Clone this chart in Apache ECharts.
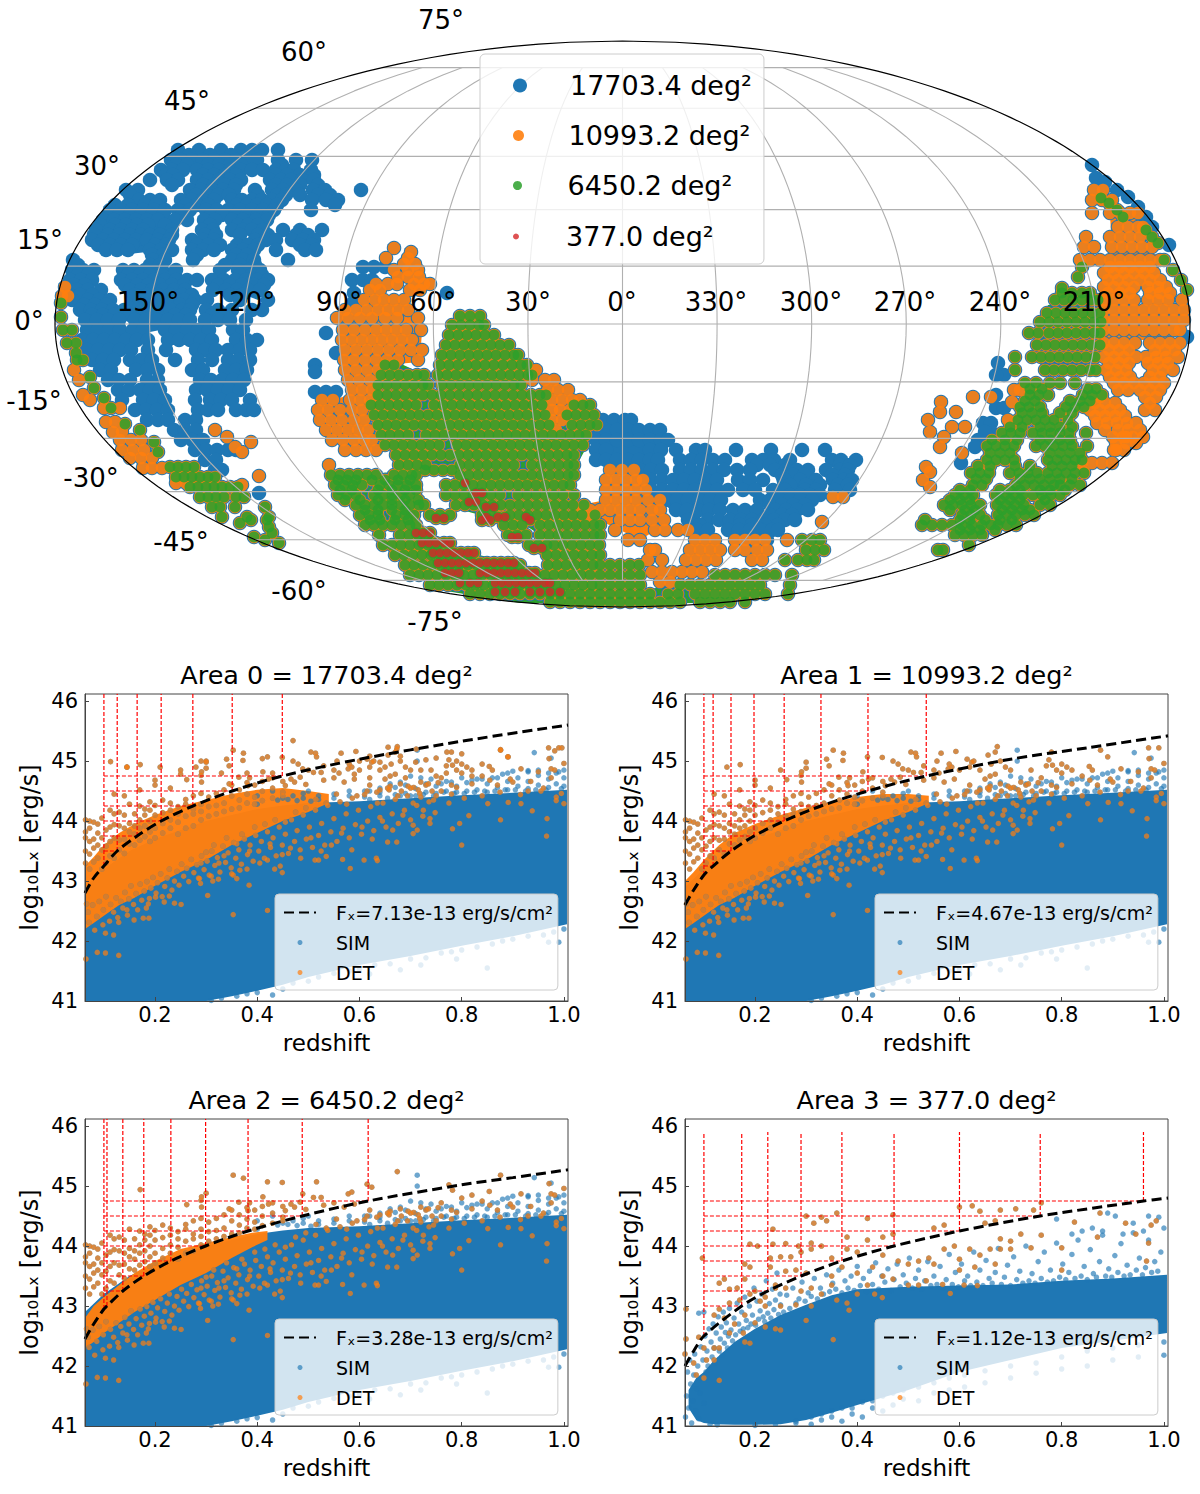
<!DOCTYPE html>
<html><head><meta charset="utf-8">
<style>html,body{margin:0;padding:0;background:#fff}#c{width:1200px;height:1494px}</style>
<script src="https://cdn.jsdelivr.net/npm/echarts@6/dist/echarts.min.js"></script>
</head><body><div id="c"></div>
<script>
const areaNames=['17703.4 deg²','10993.2 deg²','6450.2 deg²','377.0 deg²'];
const skyBlueRows=[
[150,[178,199,221,241,252,262,278]],
[155,[189,210,231]],
[160,[171,181,192,203,214,225,236,247,257,278,296,312]],
[165,[176,187,208,219,230,241,282]],
[170,[161,172,183,197,208,219,230,241,252,263,276,286,294,311]],
[175,[166,173,203,214,225,236,276,287,300,314]],
[180,[150,167,178,197,208,219,230,241,270,281,291,302,314]],
[185,[172,203,214,225,236,276,287,300,318]],
[190,[126,138,190,201,212,223,234,255,272,283,296,313,325,361]],
[195,[130,196,207,218,229,258,277,286,300,318,330]],
[200,[139,150,160,181,192,203,214,232,242,252,262,272,282,312,326,338]],
[205,[115,128,145,156,186,197,208,237,247,257,267,277,335]],
[210,[110,121,132,143,154,165,178,190,206,217,228,240,252,263,274,311]],
[215,[108,119,130,141,152,163,182,211,222,236,247,258,269]],
[220,[103,114,125,136,147,158,175,187,204,215,232,243,256,267]],
[225,[100,115,126,137,148,165,210,238,248,258]],
[230,[96,110,121,132,143,172,202,213,232,243,252,263,283,300,322]],
[235,[94,108,119,130,141,150,160,172,205,216,240,258,268,296,308]],
[240,[92,103,114,125,136,147,158,169,192,203,214,255,266,276,292,303,314]],
[245,[98,110,121,132,155,166,197,208,220,237,248,258,300,312]],
[250,[106,117,128,150,161,172,192,203,214,232,243,254,276,305,316]],
[255,[152,163,197,236,247]],
[260,[73,153,165,193,232,243,254,288]],
[265,[78,150,160,225,240,255]],
[270,[72,83,94,123,134,145,162,176,220,238,249,260]],
[275,[78,88,128,140,150,162,175,240,252,262]],
[280,[70,81,92,121,132,143,154,165,176,187,197,212,224,235,246,257,268]],
[285,[74,85,125,137,148,160,172,184,218,230,242,254,264]],
[290,[66,77,88,101,130,141,152,163,174,185,213,226,237,248,260]],
[295,[70,80,92,135,147,158,170,182,192,230,242]],
[300,[72,88,99,110,140,151,162,173,184,195,207,240,268]],
[305,[84,95,106,145,157,168,180,192]],
[310,[80,91,102,113,124,138,149,160,171,182,190,206,218,232,252,262]],
[315,[92,103,114,130,152,175,186,212,226]],
[320,[85,97,108,119,135,146,157,168,179,190,205,218,230,246]],
[330,[87,98,109,120,133,143,165,176,187,198,209,233,243]],
[340,[82,93,104,115,126,137,148,168,179,190,201,212,236,247,257]],
[350,[87,98,109,120,131,148,166,196,205,216,228,240,250]],
[360,[92,103,114,130,141,152,175,198,212,228,238,250]],
[370,[100,111,136,147,158,192,203,225,236,247]],
[380,[108,119,130,147,158,200,211,222,233,244]],
[390,[118,129,140,150,160,196,207,218,229,240]],
[400,[122,143,154,165,195,210,221,232,250]],
[410,[135,146,157,168,198,208,218,236,246,254]],
[420,[147,158,168,185,196]],
[430,[174,185,196]],
[440,[181,192,203]],
[450,[195,206,217,228,236]],
[460,[205,216]],
[470,[215,222]],
[493,[259]],
[267,[363,374,385]],[280,[352,363,372]],[293,[447,354]],[302,[354]],
[333,[326]],[353,[336]],[365,[315]],[372,[315]],[392,[315,336,326]],
[420,[603,614,625,631]],
[430,[596,606,617,628,639,650,660]],
[440,[596,606,617,628,639,650,661,668]],
[450,[596,606,650,661,676,696,705,736,771,802,825]],
[460,[596,606,617,628,639,650,658,680,691,702,713,725,752,763,774,790,832,841,856]],
[465,[757,770,785,840,850]],
[470,[640,651,662,680,691,702,713,724,737,750,775,786,797,808,826,840,848]],
[475,[782,793,804,832,845]],
[480,[651,662,673,684,695,706,717,738,750,763,785,800,816,833,844,852]],
[485,[790,806,820,838,848]],
[490,[651,662,673,684,695,706,717,728,743,755,773,785,805,816,835,850]],
[495,[790,800,810,820]],
[500,[666,677,688,699,710,721,760,770,780,790,800,812]],
[505,[770,782,793,805]],
[510,[676,687,698,709,720,733,745,757,775,786,797,808]],
[515,[770,782,792]],
[520,[688,708,719,730,741,752,763,774,785,795]],
[525,[700,740,752,765,778]],
[530,[697,708,728,739,750,761,772,778]],
[540,[736,747,758,767]],
[165,[1092]],[178,[1096]],[182,[1105]],[190,[1117]],[197,[1128]],[207,[1138]],[217,[1146]],[227,[1152]],[245,[1169]],[337,[1187]],
[363,[998]],[375,[1004,996]],[395,[996]],[408,[996,1004]],[423,[983,991]],[432,[991,985]],[440,[978]],[447,[975]],[463,[961]]
];
const skyOrangeRows=[
[248,[394]],[252,[411]],[258,[386,408]],[264,[404,415]],[270,[394,408,418]],[277,[398,408,419]],
[284,[376,388,397,414,424,430]],[290,[370,380,410,420]],[300,[364,375,384,394,404]],
[310,[345,356,367,378,388,398,408]],[318,[337,348,360,372,385,397,418]],
[330,[343,354,365,376,386,396,406,421]],[340,[342,352,362,372,382,392,402,412]],
[350,[345,356,367,378,389,400,411,422]],[360,[344,354,365,376,387,398,418]],
[370,[345,356,367,378]],[380,[348,359,370]],[390,[352,362,372]],
[400,[322,333,350,360,370]],[410,[318,328,340,352,362]],[420,[320,331,342,354,364]],
[430,[326,337,348,358,368]],[440,[332,343,354,364,372]],[450,[345,356,366,376]],[465,[329]],
[287,[65]],[296,[62,68]],[370,[74]],[380,[79]],[395,[83]],[400,[90]],[408,[120,104]],[422,[106,115]],[432,[113,122]],
[440,[120,131,141]],[450,[122,133,144]],[458,[130,141,152]],[468,[143,152,162]],[483,[176,186]],
[430,[215]],[437,[227]],[447,[235]],[452,[242]],[442,[251]],[476,[259]],[485,[242]],
[190,[1094,1103]],[200,[1092,1102,1112]],[213,[1092,1110,1120,1130,1138]],[227,[1118,1128,1138,1143]],
[237,[1086,1110,1120,1130,1140]],[247,[1084,1094,1112,1122,1132,1142,1152]],[260,[1080,1090,1100,1110,1120,1130,1140,1150,1160]],
[267,[1110,1120,1130,1140,1150]],[273,[1104,1114,1124,1134,1144,1154]],[280,[1108,1118,1128,1140,1150,1160]],[287,[1104,1114,1124,1134,1148,1158,1166]],[293,[1108,1120,1130,1150,1160,1170]],[300,[1104,1114,1124,1134,1148,1158,1168,1182]],
[310,[1104,1114,1124,1134,1144,1154,1164,1174,1184]],[320,[1104,1114,1124,1134,1144,1154,1164,1174,1184]],
[330,[1104,1114,1124,1134,1144,1154,1164,1174,1180]],[343,[1104,1114,1124,1135,1150,1160,1170,1180]],
[350,[1109,1119,1129,1155,1165,1175]],[357,[1104,1114,1124,1136,1146,1156,1166,1178]],[363,[1109,1119,1129,1148,1158,1168]],[370,[1106,1116,1126,1153,1163,1173]],[377,[1110,1120,1130,1150,1160]],[383,[1114,1124,1134,1144,1154,1164]],[390,[1118,1128,1140,1150,1160]],
[397,[1090,1100,1145,1156]],[403,[1095,1105,1115,1150]],[410,[1090,1100,1110,1120,1145,1155]],[416,[1095,1105,1115,1125]],[423,[1097,1107,1117,1127,1136]],[430,[1105,1118,1128,1140]],
[437,[1113,1123,1133,1143,1126]],[443,[1116,1126,1136]],[450,[1114,1124,1116]],[463,[1082,1092,1102,1112]],[472,[1084]],
[397,[973,991]],[402,[941,1012]],[412,[940,956]],[420,[928,1008]],[427,[952,965]],[432,[930]],[437,[944]],[447,[940]],[453,[962]],
[467,[926]],[472,[930]],[480,[923]],[487,[930]],[390,[1014,1020]],[497,[833,843]],[522,[822]],
[370,[536]],[380,[532,545,554]],[390,[548,558,568]],[400,[552,562,572,580]],[410,[552,560,570]],[420,[552,562]],[430,[556]],
[470,[610,622,634]],[480,[606,616,626,636,643]],[490,[606,616,626,636,646]],[500,[606,616,626,636,648,660]],
[510,[580,590,600,610,620,630,640,652,660]],[520,[590,620,630,640,652,664]],
[530,[615,655,665,678,688]],[540,[628,640,695,705,715,735,745,755,765,787]],
[550,[650,655,690,700,710,720,735,745,757,767]],[560,[648,662,686,696,706,716,752,762]],
[572,[652,662,672,682,692,702]],[582,[660,670]]
];
const skyGreenRows=[
[316,[460,470,480]],
[325,[452,461,470,479,484]],
[335,[449,458,467,476,485,494]],
[345,[446,455,464,473,482,491,500,509]],
[355,[442,451,460,469,478,487,496,505,514,518]],
[365,[385,394,440,449,458,467,476,485,494,503,512,521,527]],
[375,[381,390,399,408,417,424,438,447,456,465,474,483,492,501,510,519,528,532]],
[385,[378,387,396,405,414,423,428,442,451,460,469,478,487,496,505,514,521]],
[395,[378,387,396,405,414,423,432,441,450,459,468,477,486,495,504,513,522,531,540,546]],
[405,[371,380,389,398,407,416,434,443,452,461,470,479,488,497,506,515,524,533,542,574,583,590]],
[415,[374,383,392,401,410,419,428,437,446,455,464,473,482,491,500,509,518,527,536,545,567,576,585,594]],
[425,[378,387,396,405,414,423,432,441,450,459,468,477,486,495,504,513,522,531,540,549,572,581,590,597]],
[435,[381,390,399,408,426,435,444,453,462,471,480,489,498,507,516,525,534,543,552,561,570,579,586]],
[445,[385,394,403,412,421,430,439,457,466,475,484,493,502,511,520,529,538,547,556,565,574,583]],
[455,[396,405,414,423,432,441,450,459,468,477,486,495,504,513,522,531,540,549,558,567,574]],
[465,[399,408,417,426,460,469,478,487,496,505,514,532,541,550,559,568,574]],
[470,[425,434,443,452]],
[475,[331,340,349,358,367,376,394,403,412,416,460,469,478,487,496,505,514,523,532,541,550,559,568,574]],
[480,[338,347,356,372,385,398,410]],
[485,[335,344,353,362,380,389,398,407,416,446,455,464,473,482,491,500,509,518,527,536,545,554,563,570]],
[490,[340,352,378,392,405,416]],
[495,[338,347,356,374,383,392,401,410,446,455,464,473,482,491,500,518,527,536,545,554,563,574]],
[500,[345,360,378,392,405,418]],
[505,[356,365,374,383,392,401,410,419,424,456,465,474,483,492,501,510,519,528,537,546,555,564,573,584]],
[510,[365,378,392,405]],
[515,[360,369,378,396,405,414,430,440,450,482,491,510,519,528,537,546,555,564,573,582,595]],
[520,[370,380,395,408]],
[525,[365,374,383,392,401,410,416,504,513,522,540,549,558,567,576,585,594,600]],
[535,[379,400,409,418,428,508,517,526,540,549,558,567,576,585,594,600]],
[545,[383,392,401,410,419,428,437,529,538,547,554,563,572,581,590,599]],
[555,[395,404,413,422,431,440,449,458,468,547,556,565,574,583,592,600]],
[565,[405,414,423,432,441,450,459,468,477,486,495,504,513,520,548,557,566,575,584,593,600,610,620,630,639]],
[575,[410,419,428,437,446,455,464,473,482,491,500,509,518,527,536,545,554,563,572,581,590,600,610,620,630,640,715,725,735,745,755,765,775,792]],
[585,[430,439,448,457,466,475,484,493,502,511,520,529,538,547,556,565,574,583,592,600,610,620,630,640,680,690,700,710,720,730,740,750,760,790]],
[594,[470,480,490,500,510,520,530,540,550,560,570,580,590,600,610,620,630,640,650,668,678,695,705,715,725,735,745,755,765,788]],
[602,[550,560,570,580,590,600,610,620,630,640,650,660,670,680,700,710,720,730,745]],
[540,[802,812,820]],[550,[806,815,824]],[560,[785,798,807,814]],
[333,[1029,1038,1049,1058,1067,1076,1085,1094,1100]],
[345,[1037,1046,1055,1064,1073,1082,1091,1100]],
[357,[1015,1032,1041,1050,1059,1068,1077,1086,1095]],
[370,[1015,1045,1054,1063,1072,1081,1090,1096]],
[383,[1025,1036,1050,1060,1075]],
[389,[1030,1042,1088,1096]],
[395,[1030,1039,1048,1083,1092,1102]],
[401,[1025,1035,1070,1080,1090]],
[407,[1020,1029,1040,1066,1075,1084]],
[413,[1022,1032,1042,1060,1072]],
[420,[1018,1027,1036,1045,1054,1068]],
[427,[1010,1022,1040,1050,1060,1072]],
[433,[1002,1011,1020,1033,1042,1051,1060,1069,1086]],
[440,[992,1005,1017,1040,1050,1060,1070]],
[446,[987,996,1005,1014,1036,1045,1054,1063,1072,1087]],
[453,[990,1000,1010,1050,1060,1070,1080]],
[460,[987,996,1005,1014,1048,1057,1066,1075,1082]],
[466,[978,990,1015,1030,1052,1062,1072]],
[473,[971,980,989,1010,1019,1028,1037,1048,1057,1066,1075,1084]],
[479,[976,986,1020,1030,1040,1050,1060,1072]],
[485,[973,982,1016,1025,1034,1044,1054,1060,1070,1080]],
[490,[960,970,1000,1010,1020,1040,1050,1065]],
[495,[955,964,973,996,1005,1014,1023,1033,1042,1051,1060]],
[500,[950,960,970,1000,1010,1020,1045]],
[505,[944,953,962,971,980,997,1006,1015,1024,1040,1050]],
[510,[950,965,975,1002,1012,1022,1030]],
[515,[962,971,980,998,1007,1016,1025,1034]],
[520,[925,960,970,985,1000,1012]],
[525,[922,932,942,952,962,972,982,991,998,1007,1016]],
[530,[960,970,980,995]],
[535,[955,964,973,982]],[545,[969]],[550,[938,943]],
[267,[1082]],[277,[1078]],[288,[1062]],[293,[1062,1072,1082,1090]],[300,[1055,1064,1073,1082,1091,1098]],
[313,[1047,1056,1065,1074,1083,1092,1100]],[322,[1040,1049,1058,1067,1076,1085,1094,1101]],
[198,[1101]],[203,[1109]],[210,[1117]],[217,[1123]],[230,[1146]],[237,[1152]],[243,[1158]],[260,[1164]],[270,[1173]],[280,[1181]],[290,[1187]],
[303,[61]],[317,[61]],[330,[63,72]],[343,[67,76]],[353,[76]],[360,[77,83]],[377,[90]],[388,[94]],[398,[104]],[408,[111]],[424,[125]],[430,[140]],[442,[154]],[452,[158]],
[467,[170,178,186,194]],[477,[176,184,192,200,208,215]],[487,[190,198,206,214,222,230,238]],[497,[200,208,216,224,236,244]],
[507,[212,220,235,265]],[517,[222,247,269]],[523,[240]],[520,[251,267]],[527,[269]],[533,[272]],[543,[279]],[540,[265]],[537,[254]]
];
const skyRedRows=[
[483,[465]],[493,[476,482]],[502,[469,476]],[507,[486,494]],[517,[498,505,486,526]],[520,[482,490,530]],[518,[436,444]],[537,[512,518]],[548,[534,542]],
[533,[416,423,430]],[543,[422,429,436,444,450]],[553,[433,440,447,454,461,468,474]],
[563,[438,445,452,459,466,473,480,487,494,501,508,514]],[573,[445,452,459,480,487,494,501,508,515,522,529,535]],
[583,[460,470,478,495,502,509,516,523,530,537,545,550]],[592,[495,505,515,530,540,550,560]]
];
// solid cores of the tile clusters (plane outlines)
const skyBlueCores=[
[[195,165],[240,165],[240,190],[212,205],[190,200]],
[[100,215],[165,205],[165,250],[120,255],[95,245]],
[[122,270],[190,285],[185,325],[135,335],[125,300]],
[[165,325],[212,325],[212,345],[165,345]],
[[82,320],[122,310],[130,345],[110,370],[85,345]],
[[232,275],[268,280],[258,300],[232,290]],
[[596,425],[660,430],[670,445],[650,470],[650,490],[720,470],[725,500],[690,525],[665,505],[640,470],[596,465]],
[[730,515],[780,515],[770,535],[735,535]],
[[775,475],[810,475],[812,515],[785,515]]];
const skyOrangeCores=[
[[345,305],[408,305],[422,330],[420,362],[385,365],[378,395],[370,405],[372,452],[348,445],[322,415],[332,400],[350,395],[344,370],[340,325]],
[[1110,215],[1140,220],[1142,250],[1158,255],[1160,285],[1135,285],[1135,305],[1185,310],[1185,328],[1170,340],[1135,340],[1130,380],[1160,380],[1160,392],[1120,392],[1105,370],[1102,300],[1102,260],[1112,250]],
[[608,472],[640,472],[645,500],[662,510],[664,525],[640,540],[620,530],[588,515],[580,505],[606,500]],
[[540,385],[568,395],[580,400],[565,430],[552,425]]];
const skyGreenCores=[
[[462,318],[490,335],[512,350],[527,368],[530,385],[522,390],[542,398],[545,420],[565,410],[592,412],[596,430],[585,450],[574,470],[572,500],[584,510],[598,525],[602,560],[638,566],[640,590],[610,603],[560,603],[548,575],[548,555],[540,535],[525,525],[500,520],[480,515],[462,510],[448,500],[446,490],[458,478],[400,462],[396,455],[383,445],[378,425],[372,405],[378,395],[378,385],[381,375],[385,365],[397,362],[425,375],[430,385],[436,395],[440,380],[438,365],[444,345],[452,325]],
[[335,477],[416,470],[418,500],[424,507],[416,525],[400,525],[385,520],[360,510],[345,495]],
[[395,545],[415,530],[440,540],[470,553],[515,563],[545,575],[600,580],[600,603],[520,603],[440,590],[408,570]],
[[600,582],[640,572],[640,590],[680,585],[760,580],[755,592],[700,603],[600,604]],
[[1048,305],[1098,300],[1098,330],[1088,372],[1042,372],[1034,335]],
[[1048,465],[1082,460],[1060,500],[1035,500]]];
const lonLabels=['150°','120°','90°','60°','30°','0°','330°','300°','270°','240°','210°'];
const lonLabelX=[148,244,339,433,528,622,716,811,905,1000,1094];
const latLabels=[['75°',441,20],['60°',304,52],['45°',187,101],['30°',97,166],['15°',40,240],['0°',29,321],['-15°',34,401],['-30°',91,478],['-45°',181,542],['-60°',299,591],['-75°',435,622]];

// ---------- panels ----------
const panelTitles=['Area 0 = 17703.4 deg²','Area 1 = 10993.2 deg²','Area 2 = 6450.2 deg²','Area 3 = 377.0 deg²'];
const fluxNames=['Fₓ=7.13e-13 erg/s/cm²','Fₓ=4.67e-13 erg/s/cm²','Fₓ=3.28e-13 erg/s/cm²','Fₓ=1.12e-13 erg/s/cm²'];
const xTicks=[0.2,0.4,0.6,0.8,1.0];
const yTicks=[41,42,43,44,45,46];
const curves=[
[[.063,42.8],[.08,43.05],[.1,43.25],[.126,43.5],[.165,43.75],[.212,44],[.274,44.25],[.351,44.5],[.449,44.75],[.6,45.03],[.8,45.33],[1.008,45.6]],
[[.063,42.6],[.08,42.85],[.1,43.1],[.118,43.25],[.153,43.5],[.198,43.75],[.257,44],[.329,44.25],[.421,44.5],[.535,44.75],[.7,45.03],[.85,45.22],[1.008,45.42]],
[[.063,42.45],[.08,42.7],[.1,42.95],[.106,43],[.137,43.25],[.178,43.5],[.231,43.75],[.299,44],[.382,44.25],[.488,44.5],[.617,44.75],[.8,45.02],[.9,45.14],[1.008,45.27]],
[[.063,42.0],[.08,42.25],[.1,42.5],[.174,43],[.225,43.25],[.29,43.5],[.37,43.75],[.472,44],[.6,44.25],[.758,44.5],[.96,44.75],[1.008,44.8]]
];
const gridZ=[
[.1,.126,.165,.212,.274,.351,.449],
[.1,.118,.153,.198,.257,.329,.421,.535],
[.1,.106,.137,.178,.231,.299,.382,.488,.617],
[.1,.174,.225,.29,.37,.472,.6,.758,.96]];
const gridL=[
[43.25,43.5,43.75,44,44.25,44.5,44.75],
[43.1,43.25,43.5,43.75,44,44.25,44.5,44.75],
[42.95,43,43.25,43.5,43.75,44,44.25,44.5,44.75],
[42.5,43,43.25,43.5,43.75,44,44.25,44.5,44.75]];
const gridTop=[46.12,46.12,46.12,45.9];
// solid SIM clouds: [z, low edge, high edge]
const simBandShared=[[.063,41,42.9],[.1,41,43.2],[.15,41,43.5],[.2,41,43.7],[.25,41,43.85],[.3,41,44.0],[.35,41.08,44.1],[.4,41.17,44.2],[.45,41.27,44.26],[.5,41.4,44.3],[.6,41.6,44.33],[.7,41.75,44.38],[.8,41.92,44.43],[.9,42.08,44.47],[1.006,42.28,44.52]];
const simBand3=[[.07,41.3,41.6],[.085,41.1,41.8],[.1,41.05,41.9],[.12,41.03,42.1],[.16,41.02,42.4],[.2,41.02,42.62],[.25,41.03,42.85],[.3,41.1,43.02],[.35,41.22,43.18],[.4,41.35,43.28],[.5,41.6,43.32],[.6,41.9,43.34],[.7,42.1,43.36],[.8,42.3,43.42],[.9,42.42,43.46],[1.006,42.55,43.52]];
// solid DET clumps: [z, low edge, high edge]
const detBands=[
[[.063,42.2,43.25],[.08,42.3,43.4],[.1,42.42,43.6],[.13,42.6,43.8],[.16,42.72,43.95],[.2,42.92,44.1],[.25,43.15,44.25],[.3,43.35,44.35],[.35,43.6,44.45],[.4,43.8,44.52],[.45,44.0,44.55],[.5,44.15,44.5],[.54,44.3,44.45]],
[[.063,42.2,43.0],[.08,42.3,43.15],[.1,42.42,43.35],[.13,42.6,43.6],[.16,42.72,43.8],[.2,42.92,43.95],[.25,43.15,44.1],[.3,43.35,44.22],[.35,43.6,44.32],[.4,43.8,44.4],[.45,44.0,44.45],[.5,44.15,44.45],[.54,44.3,44.42]],
[[.063,42.3,42.8],[.08,42.4,43.0],[.1,42.55,43.15],[.13,42.72,43.35],[.16,42.9,43.55],[.2,43.1,43.75],[.25,43.35,43.95],[.3,43.55,44.05],[.35,43.8,44.15],[.39,43.98,44.22],[.42,44.1,44.25]],
null];
const simEdgeRows=[[.4,[44.28,44.42]],[.44,[44.35]],[.46,[44.36]],[.478,[44.34]],[.49,[44.38,44.46]],[.505,[44.33]],[.52,[44.36,44.42]],[.55,[44.38]],[.58,[44.42]],[.61,[44.4,44.5]],[.62,[44.36]],[.64,[44.42,44.48]],[.655,[44.38]],[.67,[44.44,44.56]],[.68,[44.42]],[.69,[44.46,44.6]],[.7,[44.42]],[.71,[44.42,44.54]],[.725,[44.44]],[.73,[44.48,44.62]],[.745,[44.42]],[.75,[44.46,44.58]],[.765,[44.48]],[.77,[44.5,44.66]],[.785,[44.46]],[.79,[44.48,44.58]],[.805,[44.46]],[.81,[44.5,44.64]],[.825,[44.48]],[.83,[44.52,44.7]],[.845,[44.5]],[.85,[44.48,44.62]],[.865,[44.5]],[.87,[44.56,44.72]],[.885,[44.52]],[.89,[44.52,44.66,44.8]],[.905,[44.52]],[.91,[44.58,44.72]],[.925,[44.5]],[.93,[44.54,44.66,44.84]],[.945,[44.52]],[.95,[44.6,44.76]],[.965,[44.52]],[.97,[44.56,44.7]],[.985,[44.62,44.8]],[.995,[44.54]],[1.0,[44.58,44.72]]];
const simFringeShared=[[.713,45.18],[.713,45.0],[.942,45.14],[.975,45.05],[1.0,44.85],[.99,44.82],[.97,44.8],[.95,44.85],[.93,44.82],[.9,44.83],[.88,44.78],[.86,44.72],[.84,44.7],[.82,44.68],[.8,44.72],[.78,44.65],[.76,44.62],[.74,44.7],[.72,44.72],[.7,44.75],[.68,44.65],[.66,44.62],[.64,44.55],[.62,44.5],[.58,44.5],[.55,44.45],[.5,44.5],[.47,44.42],[.45,44.38],[.43,44.5],
[.31,41.01],[.33,41.05],[.36,41.08],[.38,41.12],[.4,41.14],[.43,41.1],[.45,41.2],[.47,41.3],[.5,41.33],[.52,41.4],[.55,41.46],[.58,41.5],[.6,41.53],[.63,41.6],[.66,41.62],[.7,41.7],[.73,41.72],[.76,41.8],[.78,41.82],[.8,41.85],[.83,41.9],[.86,41.95],[.88,42.0],[.9,42.03],[.93,42.08],[.96,42.1],[.98,42.15],[1.0,42.2],[.62,41.45],[.68,41.52],[.72,41.6],[.79,41.7],[.85,41.55],[.97,41.98],[.99,41.98]];
const detShared=[
[.065,41.7],[.087,41.81],[.103,41.8],[.129,41.76],[.119,42.1],[.103,42.13],[.129,42.31],[.177,42.38],[.188,42.38],[.183,42.55],[.159,42.35],[.145,42.52],[.218,42.65],[.228,42.75],[.238,42.63],[.251,42.61],[.189,42.71],[.201,42.73],[.303,42.76],[.353,42.44],[.42,42.51],[.313,43],[.324,43.03],[.289,42.96],[.384,42.93],[.36,43.04],[.353,43.1],[.434,43.2],[.449,43.14],[.366,43.18],[.42,43.35],[.449,43.44],[.513,43.35],[.52,43.35],[.535,43.41],[.567,43.36],[.582,43.21],[.609,43.35],[.633,43.38],[.635,43.34],[.655,43.65],[.673,43.65],[.705,43.79],[.713,43.85],[.705,43.93],[.738,44.04],[.738,43.96],[.782,43.87],[.796,43.96],[.814,44.09],[.8,43.6],[.876,44.02],[.938,44.17],[.967,44.04],[.966,43.75],[.985,44.34],[1.0,44.29],[.851,44.29],[.891,44.31],[.916,44.29],
[.353,45.18],[.373,45.13],[.42,45.07],[.449,45.06],[.516,45.07],[.674,45.24],[.171,44.94],[.291,44.82],[.3,44.88],[.489,44.87],[.578,44.87],[.585,44.9],[.615,45.03],[.624,44.98],[.51,44.81],[.525,44.81],[.775,45.02],[.782,44.93],[.876,45.18],[.854,44.91],[.916,44.87],[.971,45.04],[.975,44.87],[.982,44.85],[1.0,44.96],[.262,44.69],[.291,44.65],[.29,44.76],[.345,44.62],[.364,44.73],[.385,44.72],[.382,44.59],[.411,44.82],[.422,44.7],[.455,44.59],[.466,44.7],[.473,44.65],[.484,44.73],[.495,44.61],
[.68,44.62],[.7,44.55],[.72,44.65],[.76,44.72],[.78,44.6],[.8,44.8],[.82,44.85],[.84,44.75],[.87,44.6],[.9,44.65],[.93,44.5],[.96,44.55],[.985,44.4],[.78,44.45],[.75,44.42],[.72,44.4],[.62,44.6],[.64,44.52],[.66,44.58],[.59,44.7],[.57,44.65],[.55,44.72],[.53,44.68]
];
const detMottle=[[.066,42.62],[.071,42.31],[.069,42.48],[.078,42.6],[.082,42.18],[.086,42.41],[.091,42.66],[.098,42.27],[.099,42.52],[.104,42.74],[.111,42.33],[.113,42.61],[.119,42.48],[.124,42.72],[.127,42.39],[.133,42.66],[.137,42.55],[.141,42.81],[.146,42.43],[.149,42.7],[.153,42.92],[.158,42.61],[.163,42.79],[.166,42.52],[.171,42.95],[.174,42.68],[.179,42.83],[.184,42.99],[.187,42.62],[.192,42.88],[.196,43.06],[.202,42.8],[.205,42.97],[.211,43.12],[.214,42.74],[.219,42.91],[.224,43.05],[.228,43.2],[.233,42.85],[.238,43.0],[.243,43.16],[.247,42.93],[.252,43.28],[.256,43.08],[.262,43.21],[.266,42.99],[.271,43.36],[.276,43.14],[.282,43.27],[.287,43.04],[.291,43.42],[.296,43.19],[.302,43.33],[.306,43.1],[.311,43.5],[.317,43.26],[.322,43.39],[.327,43.15],[.333,43.58],[.338,43.31],[.343,43.47],[.349,43.22],[.354,43.64],[.358,43.38],[.364,43.52],[.369,43.28],[.375,43.7],[.381,43.44],[.386,43.6],[.392,43.33],[.397,43.76],[.403,43.5],[.408,43.66],[.414,43.38],[.42,43.82],[.426,43.56],[.431,43.72],[.437,43.42],[.443,43.9],[.449,43.6],[.455,43.78],[.461,43.46],[.467,44.02],[.473,43.66],[.478,43.84],[.484,43.52],[.49,44.1],[.496,43.7],[.502,43.9],[.508,43.56],[.514,44.18],[.52,43.76],[.526,43.96],[.532,43.6],[.538,44.26],[.544,43.82],[.55,44.04],[.556,43.66],[.562,44.32],[.568,43.88],[.574,44.12],[.58,43.72],[.586,44.38],[.592,43.94],[.598,44.18],[.604,43.78],[.61,44.44],[.616,44.0],[.622,44.24],[.628,43.84],[.634,44.48],[.64,44.06],[.646,44.3],[.652,43.9],[.658,44.52],[.664,44.12],[.67,44.36],[.676,43.96],[.682,44.5],[.688,44.18],[.694,44.42],[.7,44.02],[.706,44.56],[.712,44.26],[.718,44.46],[.724,44.08],[.73,44.6],[.736,44.32],[.742,44.5],[.748,44.14],[.754,44.64],
[.285,43.05],[.29,43.3],[.3,43.48],[.31,43.08],[.315,43.6],[.325,43.3],[.335,43.42],[.34,43.72],[.35,43.12],[.36,43.62],[.37,43.78],[.38,43.2],[.385,43.5],[.395,43.9],[.405,43.3],[.415,43.95],[.425,43.62],[.435,44.02],[.445,43.25],[.455,43.98],[.465,43.55],[.475,44.15],[.485,43.38],[.495,44.22],[.505,43.72],[.515,44.36],[.525,43.5],[.535,44.3],[.545,43.6],[.555,44.45],[.565,43.8],[.575,44.28],[.585,43.52],[.595,44.42],[.605,43.9],[.615,44.5],[.625,43.7],[.635,44.3],[.645,44.0],[.655,44.55],[.665,43.85],[.675,44.42],[.685,44.1],[.695,44.58],[.705,44.3],[.715,44.52],[.725,44.18],[.735,44.62],[.745,44.35],[.76,44.5],[.775,44.3],[.79,44.56],[.805,44.38],[.82,44.62],[.84,44.42],[.855,44.68],[.875,44.48],[.895,44.7],[.915,44.44],[.935,44.66],[.955,44.5],[.975,44.72],[.995,44.46]];
const detLeftRows=[[.064,[43.3,43.5,43.72,43.82,44.02]],[.072,[43.2,43.45,43.66,43.88,44.0]],[.08,[43.32,43.55,43.7,43.98]],[.088,[43.38,43.6,43.8,43.95]],[.096,[43.2,43.52,43.72,44.05]],[.104,[43.3,43.58,43.85]],[.112,[43.42,43.66,43.9,44.18]],[.12,[43.38,43.72,43.94,44.12]],[.13,[43.52,43.68,43.92,44.15]],[.14,[43.46,43.7,43.88,44.1]],[.15,[43.62,43.82,43.96,44.28]],[.16,[43.6,43.78,43.92,44.12]],[.17,[43.68,43.88,44.02,44.25]],[.18,[43.74,43.92,44.1,44.2]],[.19,[43.66,43.82,44.0,44.18,44.32]],[.2,[43.72,43.88,44.1,44.26]],[.215,[43.8,43.96,44.14,44.35]],[.23,[43.88,44.02,44.18,44.3]],[.245,[43.78,43.98,44.12,44.24]],[.26,[43.88,44.08,44.28,44.36]],[.275,[43.92,44.12,44.2,44.42]],[.29,[44.02,44.16,44.28,44.46]],[.305,[44.08,44.24,44.4]],[.32,[44.12,44.26,44.46]],[.335,[44.16,44.3,44.52]],[.35,[44.2,44.42,44.6]],[.365,[44.22,44.35,44.52]],[.38,[44.3,44.45,44.64]],[.395,[44.28,44.4,44.6]],[.41,[44.34,44.5,44.66]],[.43,[44.38,44.55,44.72]],[.45,[44.42,44.48,44.66]]];
const detExtra01=[[.505,45.15],[.514,45.13],[.556,45],[.564,45.13],[.593,45.16],[.628,45.0],[.656,45.1],[.662,44.95],[.67,45.15],[.68,45.0],[.69,44.9],[.7,44.85],[.74,44.85],[.77,44.92],[.79,44.85],[.81,44.9],[.78,45.15],[.8,44.95],[.89,45.07],[.86,44.85],[.95,44.82],[.97,45.22],[.99,45.22],[.48,44.95],[.55,44.85],[.56,44.8],[.6,44.85],[.62,44.9],[.64,44.85],[.66,44.75],[.34,45.03],[.372,45.01],[.345,44.92],[.3,44.98],[.25,44.85],[.145,44.9],[.47,45.0],[.5,44.85],[.53,44.92],[.58,44.95],[.65,44.7],[.67,44.78],[.2,44.6],[.17,44.52],[.14,44.42],[.12,44.45],[.23,44.55],[.2,44.68]];
const detExtra0=[[.113,44.99],[.145,44.9],[.47,45.34],[.656,45.23],[.673,45.2],[.711,45.2],[.771,45.15],[.8,45.12],[.876,45.19],[.891,45.07],[.982,45.17],[.996,45.22],[.62,45.08],[.6,45.0],[.64,44.98],[.68,45.08],[.71,44.98],[.73,45.02],[.75,45.05],[.59,44.78],[.62,44.72],[.65,44.9],[.69,44.72],[.72,44.85],[.75,44.75],[.77,44.8],[.79,45.0],[.82,44.75],[.84,44.95],[.41,45.04],[.29,45.0],[.3,45.0],[.21,44.9],[.25,44.78],[.28,44.9],[.33,44.8],[.38,44.8],[.43,44.8]];
const sim3Band=[[.25,43.02],[.256,42.9],[.262,43.18],[.268,42.96],[.274,43.3],[.28,43.05],[.286,43.12],[.292,43.4],[.298,43.08],[.304,43.22],[.31,43.16],[.316,43.46],[.322,43.12],[.328,43.3],[.334,43.2],[.34,43.52],[.346,43.24],[.352,43.38],[.358,43.28],[.364,43.6],[.37,43.22],[.376,43.42],[.382,43.3],[.388,43.5],[.394,43.26],[.4,43.66],[.406,43.34],[.412,43.46],[.418,43.24],[.424,43.58],[.43,43.36],[.436,43.72],[.442,43.28],[.448,43.5],[.454,43.4],[.46,43.62],[.466,43.26],[.472,43.44],[.478,43.7],[.484,43.32],[.49,43.52],[.496,43.38],[.502,43.8],[.508,43.3],[.514,43.46],[.52,43.6],[.526,43.28],[.532,43.42],[.538,43.74],[.544,43.34],[.55,43.5],[.556,43.36],[.562,43.66],[.568,43.3],[.574,43.44],[.58,43.86],[.586,43.36],[.592,43.56],[.598,43.32],[.604,43.7],[.61,43.42],[.616,43.5],[.622,43.34],[.628,43.9],[.634,43.4],[.64,43.6],[.646,43.34],[.652,43.76],[.658,43.46],[.664,43.38],[.67,43.56],[.676,43.96],[.682,43.36],[.688,43.48],[.694,43.68],[.7,43.34],[.706,43.82],[.712,43.44],[.718,43.58],[.724,43.38],[.73,44.0],[.736,43.42],[.742,43.54],[.748,43.38],[.754,43.74],[.76,43.46],[.766,43.9],[.772,43.4],[.778,43.6],[.784,43.42],[.79,44.05],[.796,43.48],[.802,43.7],[.808,43.44],[.814,43.56],[.82,43.86],[.826,43.46],[.832,44.1],[.838,43.5],[.844,43.66],[.85,43.44],[.856,43.94],[.862,43.54],[.868,43.48],[.874,43.74],[.88,44.18],[.886,43.5],[.892,43.62],[.898,43.48],[.904,43.84],[.91,43.56],[.916,44.04],[.922,43.5],[.928,43.68],[.934,43.52],[.94,44.22],[.946,43.6],[.952,43.8],[.958,43.52],[.964,43.64],[.97,44.1],[.976,43.56],[.982,43.74],[.988,43.58],[.994,43.9],[1.0,44.3]];
const sim3Left=[[.064,41.15],[.066,41.5],[.068,41.9],[.07,41.3],[.072,42.1],[.074,41.7],[.076,41.05],[.078,41.42],[.08,41.85],[.082,42.2],[.084,41.25],[.086,41.62],[.088,42.0],[.09,41.12],[.092,41.55],[.094,42.32],[.096,41.8],[.098,42.1],[.1,41.38],[.102,42.5],[.104,41.9],[.106,42.25],[.108,42.0],[.11,42.62],[.112,41.03],[.114,42.4],[.116,42.15],[.118,42.7],[.12,42.3],[.122,42.05],[.124,42.55],[.126,41.02],[.128,42.82],[.13,42.25],[.132,42.45],[.134,42.65],[.136,42.18],[.138,42.9],[.14,42.38],[.142,42.56],[.144,42.72],[.146,42.3],[.148,42.5],[.15,42.96],[.153,42.6],[.156,42.42],[.159,42.8],[.162,42.52],[.165,43.05],[.168,42.7],[.171,42.58],[.174,42.9],[.177,42.62],[.18,43.15],[.183,42.76],[.186,42.64],[.189,43.0],[.192,42.7],[.195,42.85],[.198,43.3],[.201,42.68],[.204,43.08],[.207,42.78],[.21,42.92],[.213,43.2],[.216,42.82],[.219,42.74],[.222,43.42],[.225,42.88],[.228,43.04],[.231,42.8],[.234,43.28],[.237,42.94],[.24,43.1],[.243,43.55],[.246,42.86],[.249,43.2]];
const sim3LowRows=[[.2,[41.01]],[.24,[41.03]],[.28,[41.05,41.08]],[.31,[41.03,41.15]],[.33,[41.1,41.2]],[.35,[41.15,41.25]],[.37,[41.08,41.3]],[.39,[41.2,41.3]],[.41,[41.15,41.4]],[.43,[41.3,41.42]],[.45,[41.25,41.5]],[.47,[41.35,41.55]],[.49,[41.45,41.6]],[.52,[41.42,41.65]],[.55,[41.55,41.72]],[.58,[41.6,41.8]],[.61,[41.65,41.85]],[.65,[41.72,41.92]],[.7,[41.8,42.0]],[.75,[41.88,42.05]],[.8,[41.95,42.15]],[.85,[42.0,42.25]],[.9,[42.1,42.3]],[.95,[42.15,42.35]],[1.0,[42.18,42.4]]];
const simFringe3=[[.79,44.45],[.86,44.3],[.89,44.55],[.905,44.5],[.94,44.38],[.97,44.5],[.99,44.48],[.84,44.25],[.82,44.2],[.88,44.25],[.92,44.2],[.96,44.25],[.1,42.9],[.09,42.88]];
const det3=[[.097,43.8],[.3,44.5],[.33,44.48],[.315,44.38],[.36,44.55],[.34,44.42],[.42,44.46],[.47,44.52],[.235,44.28],[.6,44.65],[.625,44.67],[.64,44.58],[.68,44.6],[.71,44.62],[.76,44.72],[.745,44.6],[.55,44.3],[.57,44.35],[.65,44.38],[.67,44.42],[.875,44.55],[.825,44.4],[.925,44.38],[.985,44.42],[.975,44.35],[.945,44.2],[.19,44.03],[.205,44.0],[.235,44.03],[.26,44.04],[.285,44.0],[.31,44.05],[.33,44.0],[.38,44.15],[.42,44.1],[.45,44.15],[.47,44.2],[.68,44.12],[.7,44.08],[.72,44.2],[.76,44.18],[.8,43.97],[.87,44.15],[.97,44.05],[.966,43.75],[.8,43.6],[.67,43.7],[.7,43.95],[.74,43.97],
[.18,43.7],[.19,43.65],[.23,43.8],[.25,43.82],[.27,43.82],[.29,43.9],[.31,43.95],[.35,43.8],[.38,43.95],[.4,43.9],[.45,43.85],[.48,43.75],[.5,43.7],[.52,43.75],[.54,43.8],[.57,43.95],[.59,44.0],[.6,43.78],[.62,43.95],[.64,43.85],[.66,43.95],[.68,43.95],
[.23,43.65],[.26,43.58],[.28,43.6],[.3,43.55],[.35,43.5],[.37,43.65],[.4,43.55],[.43,43.65],[.45,43.5],[.47,43.45],[.5,43.35],[.52,43.35],[.535,43.42],[.567,43.36],[.582,43.21],[.609,43.35],[.635,43.34],[.6,43.6],[.63,43.65],[.55,43.7],
[.14,43.45],[.13,43.38],[.15,43.28],[.165,43.3],[.18,43.45],[.2,43.25],[.22,43.15],[.24,43.35],[.24,43.3],[.26,43.3],[.29,43.25],[.31,43.3],[.33,43.2],[.35,43.35],[.36,43.1],[.38,43.05],[.4,43.2],[.434,43.2],[.449,43.14],[.42,43.35],
[.13,42.95],[.15,43.05],[.17,43.1],[.19,43.2],[.21,43.08],[.22,43.0],[.25,43.0],[.28,43.02],[.31,43.0],[.12,42.85],[.14,42.8],[.16,42.7],[.18,42.85],[.2,42.72],[.22,42.65],[.24,42.62],[.25,42.6],[.3,42.76],[.353,42.44],[.384,42.93],
[.065,42.95],[.065,42.45],[.09,42.48],[.1,42.3],[.063,42.2],[.08,42.05],[.085,41.85],[.1,41.8],[.13,41.76],[.105,42.1],[.12,42.1],[.13,42.3],[.12,42.3],[.15,42.55],[.18,42.4],[.19,42.38],[.177,42.55]];

// ---------- helpers ----------
const expand=rows=>rows.flatMap(([y,xs])=>xs.map(x=>[x,y]));
const expandZ=rows=>rows.flatMap(([z,ys])=>ys.map(y=>[z,y]));
const pBlue=expand(skyBlueRows),pOrange=expand(skyOrangeRows),pGreen=expand(skyGreenRows),pRed=expand(skyRedRows);
const detBase=detShared.concat(detMottle,expandZ(detLeftRows));
const simBase=simFringeShared.concat(expandZ(simEdgeRows));
function moll(lon,lat){
  const phi=lat*Math.PI/180;let t=phi;
  if(Math.abs(lat)<90){for(let i=0;i<30;i++){const d=(2*t+Math.sin(2*t)-Math.PI*Math.sin(phi))/(2+2*Math.cos(2*t));t-=d;}}
  return [622.5+567.5*(lon/180)*Math.cos(t),324-283*Math.sin(t)];
}
const FONT='DejaVu Sans';
const BLUE='#1f77b4',ORANGE='#ff7f0e',GREEN='#2ca02c',RED='#d62728';
const series=[],grids=[],xAxes=[],yAxes=[],titles=[],legends=[];

// sky
grids.push({left:0,top:0,width:1200,height:650,show:false});
xAxes.push({type:'value',gridIndex:0,min:0,max:1200,show:false});
yAxes.push({type:'value',gridIndex:0,min:0,max:650,inverse:true,show:false});
const skySym=(name,data,color,size,op)=>({type:'scatter',name,xAxisIndex:0,yAxisIndex:0,data,symbolSize:size,silent:true,
  itemStyle:{color,opacity:op},clip:false,animation:false});
const skyPoly=(polys,color,op)=>({type:'custom',xAxisIndex:0,yAxisIndex:0,data:polys.map(p=>p[0]),silent:true,animation:false,clip:false,
  renderItem:(params,api)=>({type:'polygon',shape:{points:polys[params.dataIndex].map(v=>api.coord(v))},style:{fill:color,opacity:op}})});
series.push(skyPoly(skyBlueCores,BLUE,1));
series.push(skySym(areaNames[0],pBlue.concat(pOrange,pGreen,pRed),BLUE,14.5,1));
series.push(skyPoly(skyOrangeCores,ORANGE,1));
series.push(skySym(areaNames[1],pOrange.concat(pGreen,pRed),ORANGE,12.5,.9));
series.push(skyPoly(skyGreenCores,GREEN,1));
series.push(skySym(areaNames[2],pGreen.concat(pRed),GREEN,11,.85));
series.push(skySym(areaNames[3],pRed,RED,8.5,.8));
const gl=(pts,color,width)=>({type:'line',xAxisIndex:0,yAxisIndex:0,data:pts,showSymbol:false,symbol:'none',silent:true,animation:false,
  lineStyle:{color,width},clip:false});
for(let lat=-75;lat<=75;lat+=15){const p=[];for(let lon=-180;lon<=180;lon+=6)p.push(moll(lon,lat));series.push(gl(p,'#b0b0b0',1.2));}
for(let lon=-150;lon<=150;lon+=30){const p=[];for(let lat=-75;lat<=75;lat+=3)p.push(moll(lon,lat));series.push(gl(p,'#b0b0b0',1.1));}
{const p=[];for(let lat=-90;lat<=90;lat+=1.5)p.push(moll(-180,lat));for(let lat=90;lat>=-90;lat-=1.5)p.push(moll(180,lat));series.push(gl(p,'#000',1.2));}
const textData=lonLabels.map((t,i)=>[lonLabelX[i],302,t]).concat(latLabels.map(l=>[l[1],l[2],l[0]]));
series.push({type:'scatter',xAxisIndex:0,yAxisIndex:0,data:textData,symbolSize:1,silent:true,clip:false,animation:false,
  itemStyle:{opacity:1,color:'transparent'},
  label:{show:true,position:'inside',formatter:p=>p.data[2],fontFamily:FONT,fontSize:26,color:'#000',opacity:1,textBorderWidth:0}});
const skyLegendCenters=[85,136,186,237],skyLegendSizes=[14,11,9,6];
areaNames.forEach((n,i)=>{
  const base={orient:'vertical',data:[n],itemWidth:40,itemHeight:skyLegendSizes[i],selectedMode:false,z:8,
    textStyle:{fontFamily:FONT,fontSize:27,color:'#000',padding:[0,0,0,25]}};
  if(i===0)legends.push(Object.assign(base,{left:480,top:54,padding:[18,12,165,33],backgroundColor:'rgba(255,255,255,0.8)',borderColor:'#ccc',borderWidth:1,borderRadius:5}));
  else legends.push(Object.assign(base,{left:513,top:skyLegendCenters[i]-14,padding:0}));
});

// panels
const layout=[[85,694],[685,694],[85,1119],[685,1119]];
function bandSeries(idx,band,color,op){
  return {type:'custom',xAxisIndex:idx,yAxisIndex:idx,data:[[band[0][0],band[0][1]]],silent:true,animation:false,clip:true,
    renderItem:(params,api)=>{
      const pts=band.map(b=>api.coord([b[0],b[2]])).concat(band.slice().reverse().map(b=>api.coord([b[0],b[1]])));
      return {type:'polygon',shape:{points:pts},style:{fill:color,opacity:op}};
    }};
}
layout.forEach((lo,k)=>{
  const idx=k+1;
  grids.push({left:lo[0],top:lo[1],width:483,height:307,show:true,borderColor:'#444',borderWidth:1,backgroundColor:'transparent'});
  xAxes.push({type:'value',gridIndex:idx,min:0.063,max:1.008,z:6,name:'redshift',nameLocation:'middle',nameGap:30,
    nameTextStyle:{fontFamily:FONT,fontSize:23,color:'#000'},
    axisLine:{lineStyle:{color:'#444',width:1}},splitLine:{show:false},
    axisTick:{inside:true,length:4,customValues:xTicks,lineStyle:{color:'#444'}},
    axisLabel:{customValues:xTicks,margin:3,fontFamily:FONT,fontSize:21,color:'#000',formatter:v=>v.toFixed(1)}});
  yAxes.push({type:'value',gridIndex:idx,min:41,max:46.117,z:6,name:'log₁₀Lₓ [erg/s]',nameLocation:'middle',nameGap:43,
    nameTextStyle:{fontFamily:FONT,fontSize:24,color:'#000'},
    axisLine:{lineStyle:{color:'#444',width:1}},splitLine:{show:false},
    axisTick:{inside:true,length:4,customValues:yTicks,lineStyle:{color:'#444'}},
    axisLabel:{customValues:yTicks,margin:7,fontFamily:FONT,fontSize:21,color:'#000',formatter:v=>String(v)}});
  titles.push({text:panelTitles[k],left:lo[0]+241.5,top:lo[1]-32,textAlign:'center',itemGap:0,padding:0,
    textStyle:{fontFamily:FONT,fontSize:25.5,fontWeight:'normal',color:'#000'}});
  const fringe=k===3?simFringe3.concat(sim3Band,sim3Left,expandZ(sim3LowRows)):simBase;
  const dets=k===0?detBase.concat(detExtra01,detExtra0):k===1?detBase.concat(detExtra01):k===2?detBase:det3;
  series.push(bandSeries(idx,k===3?simBand3:simBandShared,BLUE,1));
  series.push({type:'scatter',name:'SIM',xAxisIndex:idx,yAxisIndex:idx,data:fringe.concat(dets),symbolSize:5.5,silent:true,animation:false,itemStyle:{color:BLUE,opacity:.65}});
  if(detBands[k])series.push(bandSeries(idx,detBands[k],ORANGE,.97));
  series.push({type:'scatter',name:'DET',xAxisIndex:idx,yAxisIndex:idx,data:dets,symbolSize:5.5,silent:true,animation:false,itemStyle:{color:ORANGE,opacity:.7}});
  const redPts=[];
  gridZ[k].forEach((z,i)=>{
    redPts.push([z,gridL[k][i]],[z,gridTop[k]],['-','-']);
    if(i>0||k===0)redPts.push([.1,gridL[k][i]],[z,gridL[k][i]],['-','-']);
  });
  series.push({type:'line',xAxisIndex:idx,yAxisIndex:idx,data:redPts,symbol:'none',silent:true,animation:false,connectNulls:false,
    itemStyle:{color:'#f00'},lineStyle:{color:'#f00',width:1.2,type:[4,2]}});
  series.push({type:'line',name:fluxNames[k],xAxisIndex:idx,yAxisIndex:idx,data:curves[k],symbol:'none',smooth:.3,silent:true,animation:false,
    itemStyle:{color:'#000'},lineStyle:{color:'#000',width:3,type:[10,5]}});
  legends.push({left:lo[0]+190,top:lo[1]+200,orient:'vertical',data:[{name:fluxNames[k],itemStyle:{opacity:0}},'SIM','DET'],itemWidth:32,itemHeight:5,itemGap:11,selectedMode:false,z:8,
    padding:[9,5,8,8],backgroundColor:'rgba(255,255,255,0.8)',borderColor:'#ccc',borderWidth:1,borderRadius:4,
    textStyle:{fontFamily:FONT,fontSize:19,color:'#000',padding:[0,0,0,15]}});
});

const chart=echarts.init(document.getElementById('c'),null,{renderer:'svg',width:1200,height:1494});
chart.setOption({animation:false,backgroundColor:'#fff',title:titles,grid:grids,xAxis:xAxes,yAxis:yAxes,legend:legends,series});
</script></body></html>
